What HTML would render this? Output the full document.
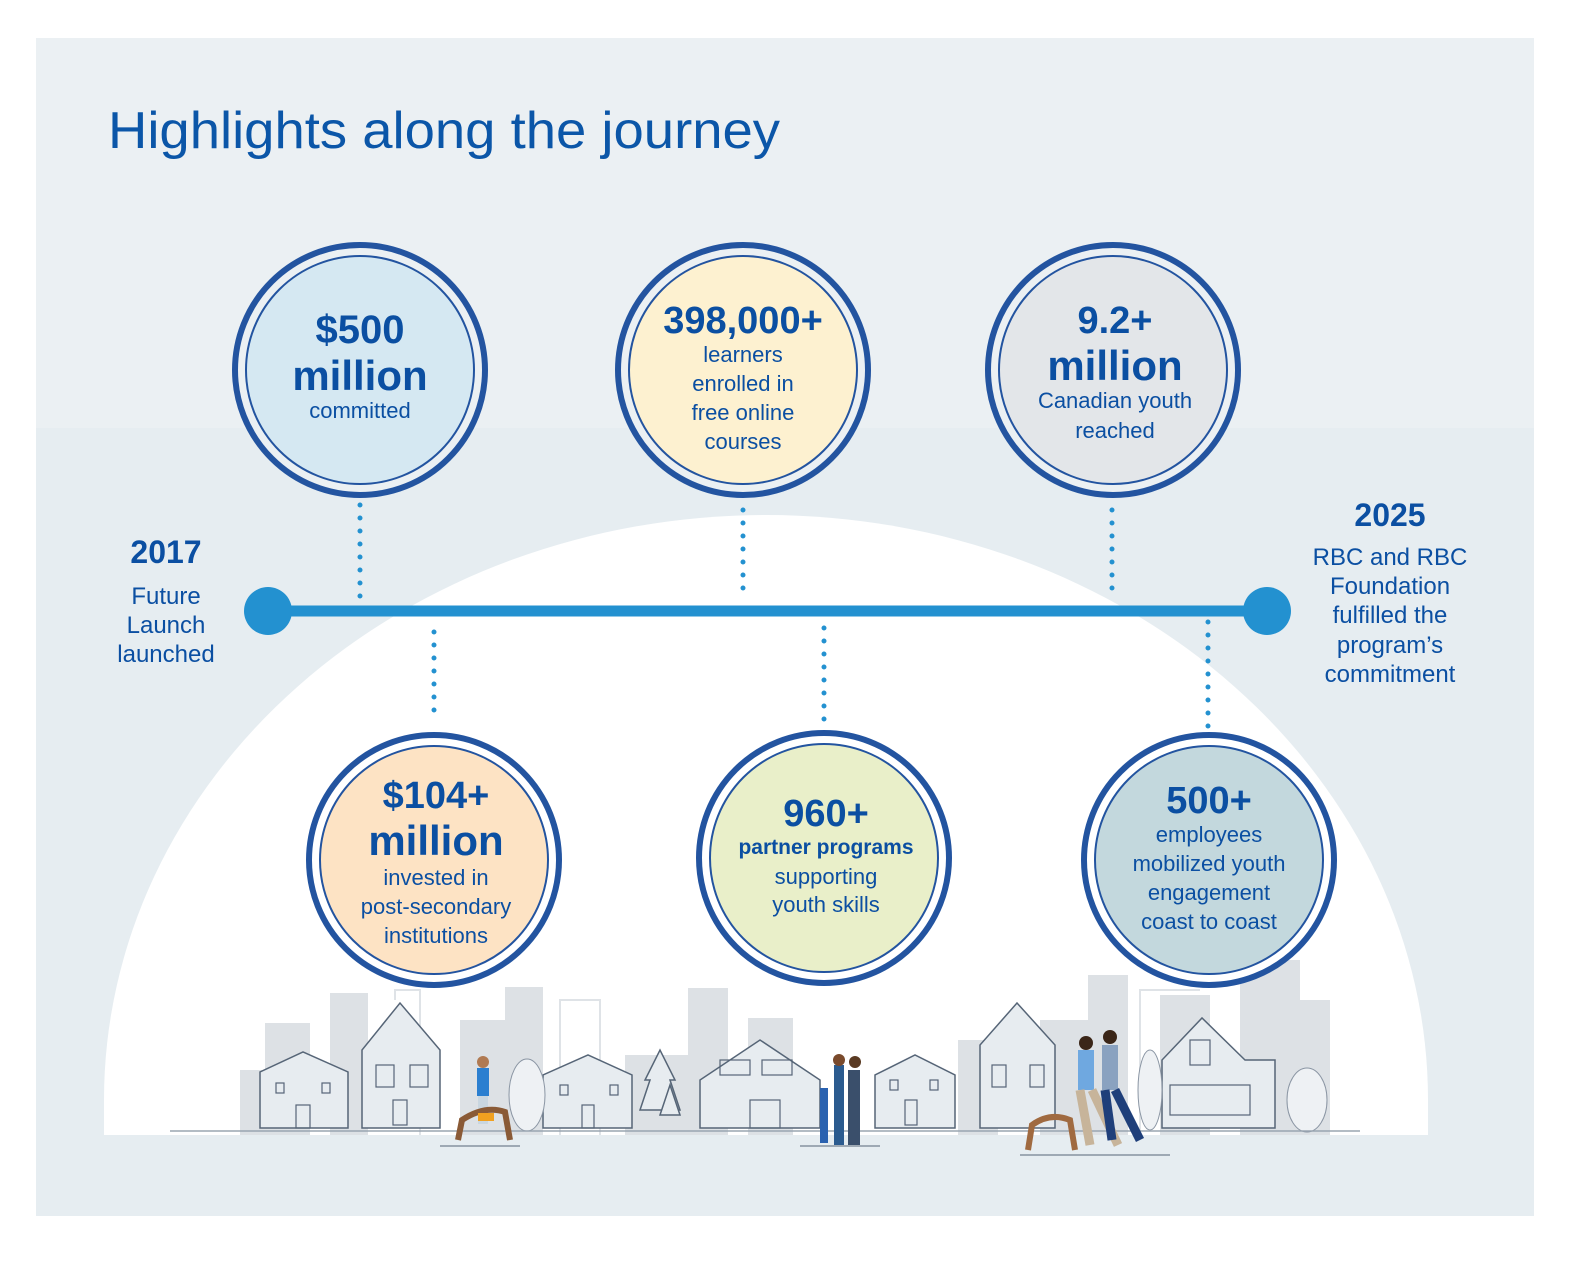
<!DOCTYPE html>
<html><head><meta charset="utf-8"><style>
html,body{margin:0;padding:0;background:#fff}
svg{display:block}
text{font-family:"Liberation Sans",sans-serif;fill:#0b4fa2;text-anchor:middle}
.b{font-weight:bold}
</style></head><body>
<svg width="1584" height="1265" viewBox="0 0 1584 1265" xmlns="http://www.w3.org/2000/svg">
<rect x="0" y="0" width="1584" height="1265" fill="#fff"/>
<rect x="36" y="38" width="1498" height="1178" fill="#e6edf1"/>
<rect x="36" y="38" width="1498" height="390" fill="#ebf0f3"/>
<!-- dome -->
<path d="M104 1135 L104 1100 A662 585 0 0 1 1428 1100 L1428 1135 Z" fill="#fff"/>
<text x="108" y="148" textLength="672" lengthAdjust="spacingAndGlyphs" style="text-anchor:start;font-size:52px;fill:#0b56a8">Highlights along the journey</text>

<!-- city -->
<g fill="#dde1e5" stroke="none">
<rect x="240" y="1070" width="60" height="65"/><rect x="265" y="1023" width="45" height="112"/>
<rect x="330" y="993" width="38" height="142"/><rect x="460" y="1020" width="55" height="115"/>
<rect x="505" y="987" width="38" height="148"/><rect x="625" y="1055" width="70" height="80"/>
<rect x="688" y="988" width="40" height="147"/><rect x="748" y="1018" width="45" height="117"/>
<rect x="958" y="1040" width="40" height="95"/><rect x="1040" y="1020" width="80" height="115"/>
<rect x="1088" y="975" width="40" height="160"/><rect x="1160" y="995" width="50" height="140"/>
<rect x="1240" y="960" width="60" height="175"/><rect x="1270" y="1000" width="60" height="135"/>
</g>
<g fill="none" stroke="#dfe3e7" stroke-width="2">
<path d="M395 1000 V990 H420 V1135"/><path d="M560 1135 V1000 H600 V1135"/><path d="M1140 1135 V990 H1200"/><path d="M1200 970 H1240"/>
</g>
<g fill="#e7ecf0" stroke="#566577" stroke-width="1.5">
<path d="M260 1128 V1072 L303 1052 L348 1072 V1128 Z"/>
<path d="M362 1128 V1050 L400 1003 L440 1050 V1128 Z"/>
<path d="M543 1128 V1075 L588 1055 L632 1075 V1128 Z"/>
<path d="M700 1128 V1080 L760 1040 L820 1080 V1128 Z"/>
<path d="M875 1128 V1075 L915 1055 L955 1075 V1128 Z"/>
<path d="M980 1128 V1045 L1017 1003 L1055 1045 V1128 Z"/>
<path d="M1162 1128 V1060 L1202 1018 L1245 1060 H1275 V1128 Z"/>
<path d="M655 1110 L640 1110 L650 1080 L645 1080 L660 1050 L675 1080 L670 1080 L680 1110 Z"/>
<path d="M660 1115 L670 1085 L680 1115 Z"/>
</g>
<g fill="#eef1f4" stroke="#8a95a3" stroke-width="1">
<ellipse cx="527" cy="1095" rx="18" ry="36"/><ellipse cx="1307" cy="1100" rx="20" ry="32"/><ellipse cx="1150" cy="1090" rx="12" ry="40"/>
</g>
<g fill="none" stroke="#566577" stroke-width="1.2">
<rect x="276" y="1083" width="8" height="10"/><rect x="322" y="1083" width="8" height="10"/><rect x="296" y="1105" width="14" height="23"/>
<rect x="376" y="1065" width="18" height="22"/><rect x="410" y="1065" width="18" height="22"/><rect x="393" y="1100" width="14" height="25"/>
<rect x="560" y="1085" width="8" height="10"/><rect x="610" y="1085" width="8" height="10"/><rect x="582" y="1105" width="12" height="23"/>
<rect x="992" y="1065" width="14" height="22"/><rect x="1030" y="1065" width="14" height="22"/>
<rect x="1190" y="1040" width="20" height="25"/><rect x="1170" y="1085" width="80" height="30"/>
<rect x="890" y="1080" width="8" height="10"/><rect x="930" y="1080" width="8" height="10"/><rect x="905" y="1100" width="12" height="25"/>
<rect x="720" y="1060" width="30" height="15"/><rect x="762" y="1060" width="30" height="15"/><rect x="750" y="1100" width="30" height="28"/>
</g>
<line x1="170" y1="1131" x2="1360" y2="1131" stroke="#9aa5b1" stroke-width="1.5"/>
<!-- people -->
<g>
<rect x="477" y="1068" width="12" height="28" fill="#2b7fd0"/><rect x="478" y="1096" width="10" height="28" fill="#c9d6e0"/>
<circle cx="483" cy="1062" r="6" fill="#b07a52"/>
<path d="M458 1140 L462 1120 Q485 1105 505 1112 L510 1140" fill="none" stroke="#8a5a36" stroke-width="6"/>
<rect x="478" y="1113" width="16" height="8" fill="#f0a020"/>
<rect x="820" y="1088" width="8" height="55" fill="#2a62b0"/><rect x="834" y="1065" width="10" height="80" fill="#2b5b8f"/><rect x="848" y="1070" width="12" height="75" fill="#3a4f6b"/>
<circle cx="839" cy="1060" r="6" fill="#7a4a2c"/><circle cx="855" cy="1062" r="6" fill="#5a3a22"/>
<path d="M1028 1150 L1032 1125 Q1050 1112 1070 1120 L1075 1150" fill="none" stroke="#a06a40" stroke-width="6"/>
<rect x="1078" y="1050" width="16" height="40" fill="#6fa8e0"/><path d="M1080 1090 L1090 1145 M1092 1090 L1118 1145" stroke="#c7b49a" stroke-width="9"/>
<circle cx="1086" cy="1043" r="7" fill="#3b2618"/>
<rect x="1102" y="1045" width="16" height="45" fill="#8aa2c0"/><path d="M1105 1090 L1112 1140 M1115 1090 L1140 1140" stroke="#1f3f7a" stroke-width="9"/>
<circle cx="1110" cy="1037" r="7" fill="#3b2618"/>
<line x1="440" y1="1146" x2="520" y2="1146" stroke="#566577"/><line x1="800" y1="1146" x2="880" y2="1146" stroke="#566577"/><line x1="1020" y1="1155" x2="1170" y2="1155" stroke="#566577"/>
</g>

<!-- timeline -->
<g stroke="#2391d0" stroke-width="5" stroke-linecap="round" stroke-dasharray="0 13">
<line x1="360" y1="505" x2="360" y2="600"/><line x1="743" y1="510" x2="743" y2="600"/><line x1="1112" y1="510" x2="1112" y2="600"/>
<line x1="434" y1="632" x2="434" y2="720"/><line x1="824" y1="628" x2="824" y2="720"/><line x1="1208" y1="622" x2="1208" y2="730"/>
</g>
<line x1="268" y1="611" x2="1267" y2="611" stroke="#2391d0" stroke-width="11"/>
<circle cx="268" cy="611" r="24" fill="#2391d0"/><circle cx="1267" cy="611" r="24" fill="#2391d0"/>

<!-- circles -->
<g stroke="#2354a0">
<circle cx="360" cy="370" r="125" fill="#ebf0f3" stroke-width="6"/><circle cx="360" cy="370" r="114" fill="#d5e8f2" stroke-width="2"/>
<circle cx="743" cy="370" r="125" fill="#ebf0f3" stroke-width="6"/><circle cx="743" cy="370" r="114" fill="#fdf1d0" stroke-width="2"/>
<circle cx="1113" cy="370" r="125" fill="#ebf0f3" stroke-width="6"/><circle cx="1113" cy="370" r="114" fill="#e3e6e9" stroke-width="2"/>
<circle cx="434" cy="860" r="125" fill="#fff" stroke-width="6"/><circle cx="434" cy="860" r="114" fill="#fde3c4" stroke-width="2"/>
<circle cx="824" cy="858" r="125" fill="#fff" stroke-width="6"/><circle cx="824" cy="858" r="114" fill="#e9efc9" stroke-width="2"/>
<circle cx="1209" cy="860" r="125" fill="#fff" stroke-width="6"/><circle cx="1209" cy="860" r="114" fill="#c3d8dd" stroke-width="2"/>
</g>

<g>
<text x="360" y="343" class="b" style="font-size:40px">$500</text>
<text x="360" y="390" class="b" style="font-size:42px">million</text>
<text x="360" y="418" style="font-size:22px">committed</text>

<text x="743" y="333" class="b" style="font-size:38px">398,000+</text>
<text x="743" y="362" style="font-size:22px">learners</text>
<text x="743" y="391" style="font-size:22px">enrolled in</text>
<text x="743" y="420" style="font-size:22px">free online</text>
<text x="743" y="449" style="font-size:22px">courses</text>

<text x="1115" y="333" class="b" style="font-size:38px">9.2+</text>
<text x="1115" y="380" class="b" style="font-size:42px">million</text>
<text x="1115" y="408" style="font-size:22px">Canadian youth</text>
<text x="1115" y="438" style="font-size:22px">reached</text>

<text x="436" y="808" class="b" style="font-size:38px">$104+</text>
<text x="436" y="855" class="b" style="font-size:42px">million</text>
<text x="436" y="885" style="font-size:22px">invested in</text>
<text x="436" y="914" style="font-size:22px">post-secondary</text>
<text x="436" y="943" style="font-size:22px">institutions</text>

<text x="826" y="826" class="b" style="font-size:38px">960+</text>
<text x="826" y="854" class="b" style="font-size:21px">partner programs</text>
<text x="826" y="884" style="font-size:22px">supporting</text>
<text x="826" y="912" style="font-size:22px">youth skills</text>

<text x="1209" y="813" class="b" style="font-size:38px">500+</text>
<text x="1209" y="842" style="font-size:22px">employees</text>
<text x="1209" y="871" style="font-size:22px">mobilized youth</text>
<text x="1209" y="900" style="font-size:22px">engagement</text>
<text x="1209" y="929" style="font-size:22px">coast to coast</text>

<text x="166" y="563" class="b" style="font-size:32px">2017</text>
<text x="166" y="604" style="font-size:24px">Future</text>
<text x="166" y="633" style="font-size:24px">Launch</text>
<text x="166" y="662" style="font-size:24px">launched</text>

<text x="1390" y="526" class="b" style="font-size:32px">2025</text>
<text x="1390" y="565" style="font-size:24px">RBC and RBC</text>
<text x="1390" y="594" style="font-size:24px">Foundation</text>
<text x="1390" y="623" style="font-size:24px">fulfilled the</text>
<text x="1390" y="653" style="font-size:24px">program’s</text>
<text x="1390" y="682" style="font-size:24px">commitment</text>
</g>
</svg>
</body></html>
